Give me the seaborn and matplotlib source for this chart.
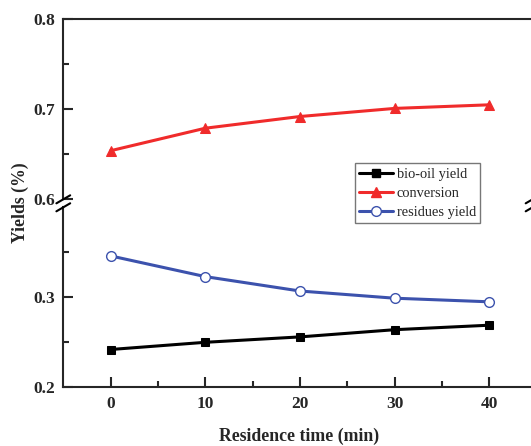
import numpy as np
import pandas as pd
import seaborn as sns
import matplotlib.pyplot as plt
from matplotlib.lines import Line2D

time = [0, 10, 20, 30, 40]
bio_oil = [0.242, 0.250, 0.256, 0.264, 0.269]
conversion = [0.654, 0.679, 0.692, 0.701, 0.705]
residues = [0.346, 0.323, 0.307, 0.299, 0.295]

df = pd.DataFrame({'time': time, 'bio_oil': bio_oil,
                   'conversion': conversion, 'residues': residues})

sns.set_theme(style='ticks')
plt.rcParams['font.family'] = ['Liberation Serif', 'DejaVu Serif']
plt.rcParams['xtick.direction'] = 'in'
plt.rcParams['ytick.direction'] = 'in'
plt.rcParams['axes.linewidth'] = 1.5

red = '#f02b2b'
blue = '#3c52ad'

fig = plt.figure(figsize=(5.31, 4.46), dpi=100)
ax_top = fig.add_axes([0.1192, 0.5531, 0.884, 0.4036])
ax_bot = fig.add_axes([0.1192, 0.1316, 0.884, 0.4036])

sns.lineplot(data=df, x='time', y='conversion', ax=ax_top, color=red,
             linewidth=2.2, marker='^', markersize=7, markeredgecolor=red)
sns.lineplot(data=df, x='time', y='bio_oil', ax=ax_bot, color='black',
             linewidth=2.2, marker='s', markersize=6, markeredgecolor='black')
sns.lineplot(data=df, x='time', y='residues', ax=ax_bot, color=blue,
             linewidth=2.2, marker='o', markersize=7, markerfacecolor='white',
             markeredgecolor=blue, markeredgewidth=1)

for ax in (ax_top, ax_bot):
    ax.set_xlim(-5, 44.6)
    ax.set_xlabel('')
    ax.set_ylabel('')
    ax.set_xticks([0, 10, 20, 30, 40])
    ax.set_xticks([5, 15, 25, 35], minor=True)
    ax.tick_params(axis='both', which='major', length=7, width=1.5,
                   labelsize=12.5, pad=6)
    ax.tick_params(axis='both', which='minor', length=4, width=1.5)
    for lab in ax.get_xticklabels():
        lab.set_fontweight('bold')

ax_top.set_ylim(0.6, 0.8)
ax_top.set_yticks([0.6, 0.7, 0.8])
ax_top.set_yticklabels(['0.6', '0.7', '0.8'], fontweight='bold')
ax_top.set_yticks([0.65, 0.75], minor=True)
ax_top.spines['bottom'].set_visible(False)
ax_top.tick_params(axis='x', which='both', bottom=False, labelbottom=False)

ax_bot.set_ylim(0.2, 0.4)
ax_bot.set_yticks([0.2, 0.3])
ax_bot.set_yticklabels(['0.2', '0.3'], fontweight='bold')
ax_bot.set_yticks([0.25, 0.35], minor=True)
ax_bot.spines['top'].set_visible(False)

# axis break marks
for xs in (0.1192, 1.003):
    for yc in (0.5531, 0.5352):
        fig.add_artist(Line2D([xs - 0.013, xs + 0.013], [yc - 0.009, yc + 0.009],
                              color='black', linewidth=1.5, transform=fig.transFigure))

fig.text(0.038, 0.545, 'Yields (%)', rotation=90, ha='center', va='center',
         fontsize=12.8, fontweight='bold')
fig.text(0.563, 0.022, 'Residence time (min)', ha='center', va='center',
         fontsize=12.8, fontweight='bold')

handles = [
    Line2D([], [], color='black', linewidth=2.2, marker='s', markersize=6),
    Line2D([], [], color=red, linewidth=2.2, marker='^', markersize=7),
    Line2D([], [], color=blue, linewidth=2.2, marker='o', markersize=7,
           markerfacecolor='white', markeredgecolor=blue, markeredgewidth=1),
]
leg = fig.legend(handles, ['bio-oil yield', 'conversion', 'residues yield'],
                 loc='upper left', bbox_to_anchor=(0.668, 0.634),
                 fontsize=10.4, frameon=True, fancybox=False, framealpha=1,
                 edgecolor='#777777', handlelength=2.35, handletextpad=0.25,
                 labelspacing=0.42, borderpad=0.3, borderaxespad=0)
leg.get_frame().set_linewidth(1)

fig.savefig('out.png', dpi=100)
